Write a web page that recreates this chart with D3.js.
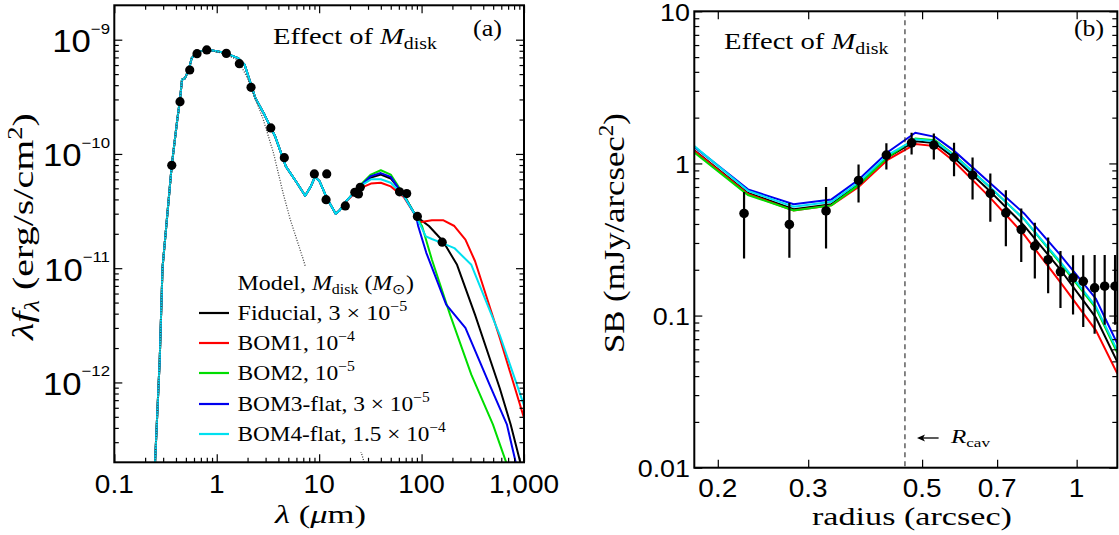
<!DOCTYPE html>
<html><head><meta charset="utf-8">
<script src="https://cdn.jsdelivr.net/npm/d3@7"></script>
<style>body{margin:0;background:#fff} svg{display:block}</style>
</head><body>
<svg id="c" width="1119" height="535"></svg>
<script>
// ---------------- DATA: panel (a) SED ----------------
const sedLam  = [0.245,0.25,0.2776,0.2956,0.364,0.412,0.438,0.458,0.49,0.533,0.57,0.64,0.8,1.16,1.62,1.87,2.19,2.38,2.92,3.71,4.73,6.06,7.3,8.3,9.1,10.1,11.9,14.5,15.8,18.4];
const sedFlux = [1e-13,2e-13,1.58e-12,1.01e-11,7.95e-11,2.0e-10,2.99e-10,4.47e-10,4.6e-10,5.47e-10,6.9e-10,7.74e-10,8.2e-10,7.74e-10,6.9e-10,6.05e-10,3.9e-10,3.09e-10,2.21e-10,1.43e-10,7.79e-11,5.6e-11,4.3e-11,5.2e-11,6.3e-11,5.76e-11,4.1e-11,3.0e-11,3.2e-11,3.86e-11];
const fidLam  = [25,32,40,50,67,88.5,118,162,222,333,580,740,920,1000];
const fidFlux = [5.2e-11,6.2e-11,6.6e-11,6.1e-11,4.4e-11,2.84e-11,2.34e-11,1.72e-11,1.07e-11,3.9e-12,8.9e-13,4.3e-13,2e-13,1.2e-13];
const bom1Lam  = [25,32,40,50,67,88.5,95.9,126,162,209,268,333,580,1000];
const bom1Flux = [5.0e-11,5.5e-11,5.6e-11,5.2e-11,4.2e-11,2.84e-11,2.52e-11,2.63e-11,2.63e-11,2.34e-11,1.78e-11,1.15e-11,2.45e-12,4.9e-13];
const bom2Lam  = [25,32,40,50,67,88.5,101,126,190,306,497,670,750];
const bom2Flux = [5.3e-11,6.6e-11,7.2e-11,6.6e-11,4.4e-11,2.84e-11,2.34e-11,1.19e-11,3.9e-12,1.17e-12,4.3e-13,2e-13,1.3e-13];
const bom3Lam  = [25,32,40,50,67,88.5,92.6,111,174,268,460,680,830,900];
const bom3Flux = [5.2e-11,6.4e-11,6.8e-11,6.3e-11,4.3e-11,2.84e-11,2.34e-11,1.37e-11,4.8e-12,3.0e-12,9.6e-13,4.3e-13,2e-13,1.4e-13];
const bom4Lam  = [25,32,40,50,67,88.5,110,126,162,209,306,580,1000];
const bom4Flux = [5.2e-11,6.0e-11,6.0e-11,5.6e-11,4.3e-11,2.84e-11,1.9e-11,1.8e-11,1.65e-11,1.5e-11,1.07e-11,2.6e-12,6.3e-13];
const photLam  = [0.245,0.25,0.2776,0.2956,0.364,0.412,0.438,0.458,0.49,0.533,0.57,0.64,0.8,1.16,1.62,2.0,2.85,3.58,4.46,5.2,7.0,28];
const photFlux = [1e-13,2e-13,1.58e-12,1.01e-11,7.95e-11,2.0e-10,2.99e-10,4.47e-10,4.6e-10,5.47e-10,6.9e-10,7.74e-10,8.2e-10,7.6e-10,6.6e-10,4.6e-10,2.0e-10,1.02e-10,4.5e-11,2.7e-11,1.19e-11,1.9e-13];
const obsLam  = [0.364,0.438,0.545,0.642,0.799,1.241,1.663,2.163,3.37,4.57,8.98,11.86,11.68,18.0,22.3,24.2,25.2,60.9,71.6,91,159];
const obsFlux = [7.95e-11,2.87e-10,5.43e-10,7.54e-10,8.13e-10,7.59e-10,6.17e-10,3.83e-10,1.69e-10,9.28e-11,6.68e-11,6.68e-11,3.98e-11,3.51e-11,4.61e-11,4.47e-11,5.1e-11,4.66e-11,4.5e-11,2.84e-11,1.69e-11];
const xTicksA = [0.1,1,10,100,1000];
const xTickLabelsA = ["0.1","1","10","100","1,000"];
const yTicksA = [1e-9,1e-10,1e-11,1e-12];
const yTickExpA = ["\u22129","\u221210","\u221211","\u221212"];

// ---------------- DATA: panel (b) radial profile ----------------
const obsR   = [0.225,0.2757,0.325,0.376,0.426,0.477,0.527,0.577,0.627,0.679,0.728,0.78,0.829,0.88,0.93,0.984,1.03,1.084,1.134,1.188];
const obsSB  = [0.469,0.397,0.487,0.773,1.134,1.366,1.32,1.095,0.837,0.635,0.473,0.368,0.286,0.233,0.194,0.177,0.168,0.152,0.156,0.156];
const obsLo  = [0.237,0.24,0.276,0.553,0.912,1.146,1.06,0.825,0.58,0.413,0.286,0.225,0.175,0.14,0.112,0.1016,0.084,0.076,0.087,0.087];
const obsHi  = [0.65,0.55,0.70,0.985,1.355,1.59,1.574,1.37,1.095,0.859,0.667,0.506,0.407,0.326,0.266,0.249,0.249,0.25,0.25,0.25];
const modR   = [0.18,0.229,0.281,0.333,0.376,0.429,0.485,0.53,0.575,0.674,0.79,0.93,1.09,1.2];
const sbFid  = [1.22,0.64,0.50,0.54,0.73,1.10,1.40,1.36,1.10,0.67,0.39,0.20,0.097,0.0496];
const sbBom1 = [1.21,0.63,0.49,0.53,0.70,1.06,1.34,1.30,1.04,0.61,0.34,0.165,0.08,0.0415];
const sbBom2 = [1.18,0.62,0.49,0.53,0.72,1.10,1.46,1.42,1.15,0.71,0.43,0.22,0.112,0.057];
const sbBom3 = [1.285,0.675,0.539,0.58,0.78,1.19,1.59,1.496,1.223,0.757,0.469,0.25,0.129,0.0655];
const sbBom4 = [1.30,0.66,0.52,0.56,0.75,1.14,1.44,1.40,1.14,0.71,0.43,0.225,0.115,0.059];
const rCav = 0.463;
const xTicksB = [0.2,0.3,0.5,0.7,1];
const xTickLabelsB = ["0.2","0.3","0.5","0.7","1"];
const yTicksB = [0.01,0.1,1,10];
const yTickLabelsB = ["0.01","0.1","1","10"];

const modelNames = ["Fiducial","BOM1","BOM2","BOM3-flat","BOM4-flat"];
const modelColors = ["#000000","#ff0000","#00dd00","#0000ee","#00e0f0"];

// ---------------- DRAWING ----------------
const svg = d3.select("#c");
const SANS = "'Liberation Sans', Arial, Helvetica, sans-serif";
const SERIF = "'Liberation Serif', 'Times New Roman', serif";
const STRETCH = 1.12;

const xA = d3.scaleLog().domain([0.1,1000]).range([114.3,524]);
const yA = d3.scaleLog().domain([2e-13,2e-9]).range([462.3,5.3]);
const xB = d3.scaleLog().domain([0.18,1.2]).range([694.3,1117.3]);
const yB = d3.scaleLog().domain([0.01,10]).range([467.7,11.3]);

const defs = svg.append("defs");
defs.append("clipPath").attr("id","clipA").append("rect")
  .attr("x",114.3).attr("y",5.3).attr("width",524-114.3).attr("height",462.3-5.3);
defs.append("clipPath").attr("id","clipB").append("rect")
  .attr("x",694.3).attr("y",11.3).attr("width",1117.3-694.3).attr("height",467.7-11.3);

function minorLog(lo, hi){
  const out=[];
  for(let e=Math.floor(Math.log10(lo)); e<=Math.ceil(Math.log10(hi)); e++){
    for(let m=2;m<=9;m++){const v=m*Math.pow(10,e); if(v>lo*1.0001 && v<hi*0.9999) out.push(v);}
  }
  return out;
}

function drawTicks(x, y, xMajor, xMinor, yMajor, yMinor, majLen, minLen){
  const [x0,x1]=x.range(); const [y0,y1]=y.range();
  const mk = (gen, vals, len) => gen.tickValues(vals).tickSizeInner(-len).tickSizeOuter(0).tickFormat("");
  [[mk(d3.axisBottom(x),xMajor,majLen),`translate(0,${y0})`],[mk(d3.axisBottom(x),xMinor,minLen),`translate(0,${y0})`],
   [mk(d3.axisTop(x),xMajor,majLen),`translate(0,${y1})`],[mk(d3.axisTop(x),xMinor,minLen),`translate(0,${y1})`],
   [mk(d3.axisLeft(y),yMajor,majLen),`translate(${x0},0)`],[mk(d3.axisLeft(y),yMinor,minLen),`translate(${x0},0)`],
   [mk(d3.axisRight(y),yMajor,majLen),`translate(${x1},0)`],[mk(d3.axisRight(y),yMinor,minLen),`translate(${x1},0)`]]
   .forEach(([ax,tr])=>{
     const a = svg.append("g").attr("transform",tr).call(ax);
     a.select(".domain").remove();
     a.selectAll("line").attr("stroke","#000").attr("stroke-width",1.2);
   });
  svg.append("rect").attr("x",x0).attr("y",y1).attr("width",x1-x0).attr("height",y0-y1)
    .attr("fill","none").attr("stroke","#000").attr("stroke-width",2);
}

function richText(parent, parts, size, family){
  const t = parent.append("text").attr("font-family",family).attr("font-size",size).attr("fill","#000");
  parts.forEach(p=>{
    const s = t.append("tspan").text(p.t);
    if(p.it) s.attr("font-style","italic");
    if(p.sz) s.attr("font-size",p.sz);
    if(p.dy) s.attr("dy",p.dy);
  });
  return t;
}
// x,y = anchor point / baseline; width = target width (or null -> fixed stretch sxFixed)
function placeText(x, y, parts, size, family, width, anchor, sxFixed){
  const g = svg.append("g");
  const t = richText(g, parts, size, family);
  const nat = t.node().getComputedTextLength();
  const sx = width ? width/nat : (sxFixed || 1);
  let dx = 0;
  if(anchor==="middle") dx = -nat/2; else if(anchor==="end") dx = -nat;
  t.attr("x",dx);
  g.attr("transform",`translate(${x},${y}) scale(${sx},1)`);
  return g;
}
function placeTextRot(xBase, yCenter, parts, size, family, width){
  const g = svg.append("g");
  const t = richText(g, parts, size, family);
  const nat = t.node().getComputedTextLength();
  t.attr("x",-nat/2);
  g.attr("transform",`translate(${xBase},${yCenter}) rotate(-90) scale(${width/nat},1)`);
}

// ======== Panel (a) ========
const lineA = d3.line().x(d=>xA(d[0])).y(d=>yA(d[1]));
const gA = svg.append("g").attr("clip-path","url(#clipA)");
const sedCommon = sedLam.map((l,i)=>[l,sedFlux[i]]);
const tails = [[fidLam,fidFlux],[bom1Lam,bom1Flux],[bom2Lam,bom2Flux],[bom3Lam,bom3Flux],[bom4Lam,bom4Flux]];
tails.forEach((tl,k)=>{
  const pts = sedCommon.concat(tl[0].map((l,i)=>[l,tl[1][i]]));
  gA.append("path").attr("d",lineA(pts)).attr("fill","none")
    .attr("stroke",modelColors[k]).attr("stroke-width",2).attr("stroke-linejoin","round");
});
gA.append("path").attr("d",lineA(photLam.map((l,i)=>[l,photFlux[i]])))
  .attr("fill","none").attr("stroke","#444").attr("stroke-width",1.3).attr("stroke-dasharray","1,1.6");
svg.append("rect").attr("x",190).attr("y",266).attr("width",230).attr("height",186).attr("fill","#fff");
gA.selectAll("circle.obs").data(obsLam.map((l,i)=>[l,obsFlux[i]])).enter().append("circle")
  .attr("cx",d=>xA(d[0])).attr("cy",d=>yA(d[1])).attr("r",4.6).attr("fill","#000");

drawTicks(xA,yA,xTicksA,minorLog(0.1,1000),[1e-12,1e-11,1e-10,1e-9],minorLog(2e-13,2e-9),8,4.5);

xTicksA.forEach((v,i)=>{
  placeText(xA(v),492.7,[{t:xTickLabelsA[i]}],25,SANS,null,"middle",STRETCH);
});
yTicksA.forEach((v,i)=>{
  placeText(110, yA(v)+12.4, [{t:"10"},{t:yTickExpA[i],sz:15,dy:-18.4}], 31, SANS, null, "end", STRETCH);
});

placeText(273,44,[{t:"Effect of "},{t:"M",it:1},{t:"disk",sz:16,dy:5}],23,SERIF,164);
placeText(473,36,[{t:"(a)"}],23,SERIF,29);
placeText(320.5,522.5,[{t:"\u03bb",it:1},{t:" ("},{t:"\u03bc",it:1},{t:"m)"}],26,SERIF,91,"middle");
placeTextRot(33,226.5,[{t:"\u03bb",it:1},{t:"f",it:1},{t:"\u03bb",it:1,sz:20,dy:6},{t:" (erg/s/cm",dy:-6},{t:"2",sz:20,dy:-11},{t:")",dy:11}],30,SERIF,227);

// legend
placeText(237.5,290,[{t:"Model, "},{t:"M",it:1},{t:"disk",sz:14,dy:4},{t:" (",dy:-4},{t:"M",it:1},{t:"\u2299",sz:14,dy:4},{t:")",dy:-4}],21,SERIF,176.5);
const legY = [313,343,373,404,434];
const legParts = [
  [{t:"Fiducial, 3 \u00d7 10"},{t:"\u22125",sz:14,dy:-9}],
  [{t:"BOM1, 10"},{t:"\u22124",sz:14,dy:-9}],
  [{t:"BOM2, 10"},{t:"\u22125",sz:14,dy:-9}],
  [{t:"BOM3-flat, 3 \u00d7 10"},{t:"\u22125",sz:14,dy:-9}],
  [{t:"BOM4-flat, 1.5 \u00d7 10"},{t:"\u22124",sz:14,dy:-9}]
];
const legW = [170,117.5,117.5,192.5,208.5];
modelNames.forEach((n,i)=>{
  svg.append("line").attr("x1",199).attr("x2",229).attr("y1",legY[i]).attr("y2",legY[i])
    .attr("stroke",modelColors[i]).attr("stroke-width",2.2);
  placeText(237.5,legY[i]+7,legParts[i],21,SERIF,legW[i]);
});

// ======== Panel (b) ========
const lineB = d3.line().x(d=>xB(d[0])).y(d=>yB(d[1]));
const gB = svg.append("g").attr("clip-path","url(#clipB)");
[sbFid,sbBom1,sbBom2,sbBom3,sbBom4].forEach((arr,k)=>{
  gB.append("path").attr("d",lineB(modR.map((r,i)=>[r,arr[i]]))).attr("fill","none")
    .attr("stroke",modelColors[k]).attr("stroke-width",2);
});
gB.append("line").attr("x1",xB(rCav)).attr("x2",xB(rCav)).attr("y1",yB.range()[1]).attr("y2",yB.range()[0])
  .attr("stroke","#222").attr("stroke-width",1.1).attr("stroke-dasharray","5,4");
gB.selectAll("line.err").data(obsR.map((r,i)=>i)).enter().append("line")
  .attr("x1",i=>xB(obsR[i])).attr("x2",i=>xB(obsR[i])).attr("y1",i=>yB(obsLo[i])).attr("y2",i=>yB(obsHi[i]))
  .attr("stroke","#000").attr("stroke-width",2.2);
gB.selectAll("circle.obs").data(obsR.map((r,i)=>[r,obsSB[i]])).enter().append("circle")
  .attr("cx",d=>xB(d[0])).attr("cy",d=>yB(d[1])).attr("r",4.8).attr("fill","#000");

drawTicks(xB,yB,xTicksB,[],yTicksB,minorLog(0.01,10),8,5);

xTicksB.forEach((v,i)=>{
  placeText(xB(v),496.5,[{t:xTickLabelsB[i]}],25,SANS,null,"middle",STRETCH);
});
yTicksB.forEach((v,i)=>{
  placeText(690,yB(v)+9.5,[{t:yTickLabelsB[i]}],24,SANS,null,"end",STRETCH);
});

placeText(724,49,[{t:"Effect of "},{t:"M",it:1},{t:"disk",sz:16,dy:5}],23,SERIF,164.5);
placeText(1074,36,[{t:"(b)"}],23,SERIF,30);
placeText(912,525,[{t:"radius (arcsec)"}],25.5,SERIF,200,"middle");
placeTextRot(624,233,[{t:"SB (mJy/arcsec"},{t:"2",sz:20,dy:-11},{t:")",dy:11}],30,SERIF,240);

// R_cav annotation
const arrowY = 438;
svg.append("line").attr("x1",938.6).attr("x2",919).attr("y1",arrowY).attr("y2",arrowY).attr("stroke","#000").attr("stroke-width",1.3);
svg.append("path").attr("d",`M917,${arrowY} L925,${arrowY-3.5} L923,${arrowY} L925,${arrowY+3.5} Z`).attr("fill","#000");
placeText(951,443,[{t:"R",it:1},{t:"cav",sz:13,dy:4}],19,SERIF,39);
</script>
</body></html>
